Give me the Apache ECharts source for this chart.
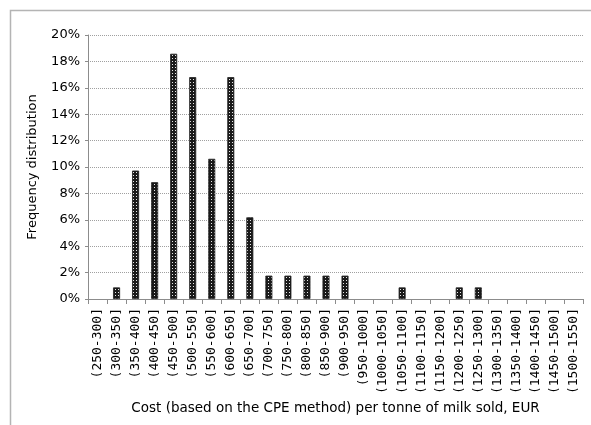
<!DOCTYPE html>
<html>
<head>
<meta charset="utf-8">
<script src="https://cdn.jsdelivr.net/npm/echarts@6/dist/echarts.min.js"></script>
<style>
  html, body { margin: 0; padding: 0; background: #fff; }
  #main { width: 591px; height: 425px; }
</style>
</head>
<body>
<div id="main"></div>
<script>
// cost classes, EUR per tonne
var categories = ['(250-300]', '(300-350]', '(350-400]', '(400-450]', '(450-500]', '(500-550]',
  '(550-600]', '(600-650]', '(650-700]', '(700-750]', '(750-800]', '(800-850]', '(850-900]',
  '(900-950]', '(950-1000]', '(1000-1050]', '(1050-1100]', '(1100-1150]', '(1150-1200]',
  '(1200-1250]', '(1250-1300]', '(1300-1350]', '(1350-1400]', '(1400-1450]', '(1450-1500]',
  '(1500-1550]'];
// frequency in %
var frequency = [0, 0.88, 9.73, 8.85, 18.58, 16.81, 10.62, 16.81, 6.19, 1.77, 1.77, 1.77, 1.77,
  1.77, 0, 0, 0.88, 0, 0, 0.88, 0.88, 0, 0, 0, 0, 0];

// motif des barres : fond sombre, petits points clairs
var pat = document.createElement('canvas');
pat.width = 3;
pat.height = 3;
var ctx = pat.getContext('2d');
ctx.fillStyle = '#1a1a1a';
ctx.fillRect(0, 0, 3, 3);
ctx.fillStyle = '#e8e8e8';
ctx.fillRect(1, 1, 1, 1);

var myChart = echarts.init(document.getElementById('main'));
var option = {
  animation: false,
  textStyle: { fontFamily: 'DejaVu Sans', color: '#000' },
  graphic: [{
    type: 'rect',
    shape: { x: 10.5, y: 10.5, width: 600, height: 440 },
    style: { fill: 'none', stroke: '#b4b4b4', lineWidth: 1.5 },
    silent: true
  }],
  grid: { left: 88, top: 35, right: 8, bottom: 126 },
  xAxis: {
    type: 'category',
    data: categories,
    name: 'Cost (based on the CPE method) per tonne of milk sold, EUR',
    nameLocation: 'middle',
    nameGap: 100,
    nameTextStyle: { fontSize: 13.5, color: '#000' },
    axisLine: { lineStyle: { color: '#8c8c8c', width: 1 } },
    axisTick: { show: true, alignWithLabel: false, length: 5, lineStyle: { color: '#8c8c8c' } },
    axisLabel: { rotate: 90, fontSize: 13, fontFamily: 'DejaVu Sans Mono', color: '#000', margin: 9, interval: 0 }
  },
  yAxis: {
    type: 'value',
    min: 0,
    max: 20,
    interval: 2,
    name: 'Frequency distribution',
    nameLocation: 'middle',
    nameGap: 49,
    nameTextStyle: { fontSize: 13, color: '#000' },
    axisLine: { show: true, lineStyle: { color: '#8c8c8c' } },
    axisTick: { show: true, length: 3, lineStyle: { color: '#8c8c8c' } },
    axisLabel: { formatter: '{value}%', fontSize: 13, color: '#000', margin: 8 },
    splitLine: { lineStyle: { color: '#a0a0a0', type: [1, 1], width: 1 } }
  },
  series: [{
    type: 'bar',
    // pas de barre pour les classes vides
    data: frequency.map(function (v) { return v === 0 ? '-' : v; }),
    barWidth: 7,
    itemStyle: {
      color: { image: pat, repeat: 'repeat' },
      borderColor: '#222',
      borderWidth: 0.8
    }
  }]
};
myChart.setOption(option);
</script>
</body>
</html>
